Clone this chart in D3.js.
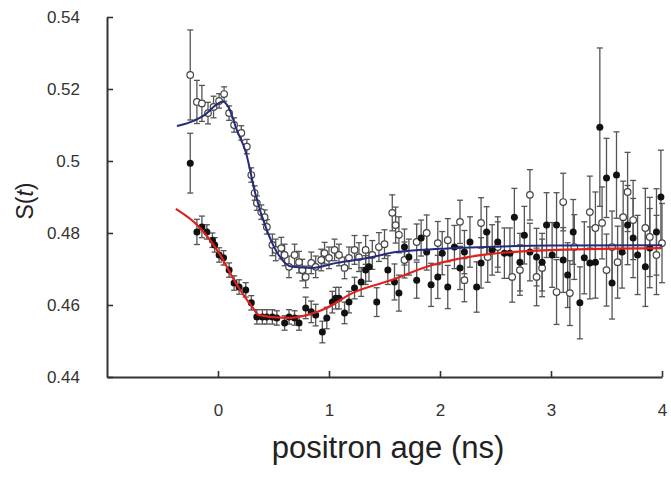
<!DOCTYPE html>
<html>
<head>
<meta charset="utf-8">
<script src="https://cdn.jsdelivr.net/npm/d3@7"></script>
<style>
  body { margin: 0; background: #fff; }
  svg { display: block; }
  .axis text { font-family: "Liberation Sans", Arial, sans-serif; font-size: 17px; fill: #333; }
  .axis path, .axis line { stroke: #333; }
</style>
</head>
<body>
<div id="chart"></div>
<script>
// open circles (blue fit)
var openT = [-0.25, -0.19, -0.145, -0.09, -0.04, 0.01, 0.055, 0.1, 0.145, 0.21, 0.26, 0.3, 0.33, 0.35, 0.39, 0.42, 0.44,
  0.49, 0.52, 0.57, 0.6, 0.64, 0.69, 0.73, 0.76, 0.79, 0.84, 0.88, 0.93, 0.96, 1.0, 1.05, 1.09, 1.14, 1.18, 1.23, 1.27,
  1.33, 1.39, 1.45, 1.5, 1.57, 1.6, 1.63, 1.68, 1.79, 1.88, 1.98, 2.07, 2.18, 2.22, 2.37, 2.43, 2.52, 2.65, 2.72, 2.81,
  2.87, 2.92, 3.05, 3.11, 3.17, 3.21, 3.35, 3.4, 3.46, 3.5, 3.55, 3.6, 3.65, 3.69, 3.74, 3.85, 3.89, 3.95, 4.0];
var openS = [0.5239, 0.5164, 0.516, 0.5133, 0.515, 0.5167, 0.5186, 0.5133, 0.51, 0.5078, 0.504, 0.4961, 0.4911, 0.4883, 0.4858, 0.4844, 0.4817,
  0.4767, 0.4753, 0.4758, 0.4739, 0.4706, 0.4739, 0.4719, 0.4697, 0.4678, 0.4717, 0.4706, 0.4725, 0.4744, 0.4731, 0.4753, 0.4739, 0.4703, 0.4731, 0.4753, 0.4733,
  0.4753, 0.4739, 0.4761, 0.4769, 0.4856, 0.4822, 0.4795, 0.4725, 0.4775, 0.48, 0.4772, 0.478, 0.4831, 0.4669, 0.4828, 0.4733, 0.4761, 0.4678, 0.4697, 0.4906,
  0.4678, 0.4703, 0.4636, 0.4886, 0.4633, 0.4761, 0.4858, 0.4814, 0.4828, 0.4697, 0.4761, 0.4719, 0.4844, 0.4914, 0.4836, 0.4814, 0.4789, 0.4739, 0.4772];
var openErr = [0.0125, 0.006, 0.005, 0.003, 0.003, 0.002, 0.002, 0.002, 0.002, 0.002, 0.002, 0.002, 0.002, 0.002, 0.002, 0.002, 0.002,
  0.003, 0.003, 0.003, 0.003, 0.003, 0.003, 0.003, 0.003, 0.003, 0.003, 0.003, 0.003, 0.003, 0.003, 0.003, 0.003, 0.003, 0.003, 0.004, 0.004,
  0.004, 0.004, 0.004, 0.004, 0.005, 0.005, 0.005, 0.005, 0.005, 0.005, 0.006, 0.006, 0.006, 0.006, 0.007, 0.007, 0.007, 0.007, 0.007, 0.007,
  0.008, 0.008, 0.009, 0.008, 0.009, 0.009, 0.01, 0.01, 0.01, 0.01, 0.01, 0.01, 0.01, 0.011, 0.011, 0.011, 0.011, 0.011, 0.011];

// filled circles (red fit)
var fillT = [-0.25, -0.19, -0.145, -0.1, -0.05, -0.03, 0.01, 0.05, 0.1, 0.145, 0.19, 0.25, 0.3, 0.35, 0.4, 0.44, 0.49, 0.53,
  0.6, 0.64, 0.69, 0.73, 0.79, 0.84, 0.88, 0.94, 0.98, 1.03, 1.06, 1.09, 1.14, 1.18, 1.23, 1.29, 1.33, 1.36, 1.43, 1.53,
  1.59, 1.63, 1.68, 1.72, 1.79, 1.83, 1.88, 1.92, 1.98, 2.02, 2.07, 2.13, 2.18, 2.22, 2.27, 2.33, 2.37, 2.42, 2.47, 2.52,
  2.58, 2.63, 2.67, 2.72, 2.76, 2.81, 2.87, 2.92, 2.96, 3.01, 3.05, 3.11, 3.15, 3.2, 3.26, 3.3, 3.35, 3.4, 3.44, 3.5,
  3.55, 3.59, 3.64, 3.69, 3.74, 3.78, 3.85, 3.89, 3.95, 3.99];
var fillS = [0.4994, 0.4803, 0.4817, 0.4803, 0.478, 0.4767, 0.4739, 0.4731, 0.4697, 0.4661, 0.465, 0.4642, 0.4606, 0.4567, 0.4567, 0.4567, 0.4567, 0.4564,
  0.455, 0.4567, 0.4564, 0.455, 0.4592, 0.4581, 0.4572, 0.4525, 0.4564, 0.4608, 0.4619, 0.4619, 0.4578, 0.4608, 0.4647, 0.4664, 0.4697, 0.4706, 0.4608, 0.4697,
  0.4664, 0.4633, 0.4761, 0.4733, 0.4669, 0.4786, 0.4747, 0.4656, 0.4678, 0.4744, 0.465, 0.4761, 0.4703, 0.4747, 0.4775, 0.465, 0.4717, 0.4803, 0.4753, 0.4775,
  0.4744, 0.4744, 0.4844, 0.4719, 0.4794, 0.4747, 0.4733, 0.4719, 0.4822, 0.4739, 0.4822, 0.4725, 0.4683, 0.4803, 0.4606, 0.4731, 0.4717, 0.4719, 0.5094, 0.4953,
  0.4661, 0.4961, 0.4747, 0.4822, 0.4786, 0.4739, 0.4706, 0.4758, 0.4803, 0.49];
var fillErr = [0.0083, 0.0035, 0.003, 0.002, 0.002, 0.002, 0.002, 0.002, 0.002, 0.002, 0.002, 0.002, 0.002, 0.002, 0.002, 0.002, 0.002, 0.002,
  0.002, 0.002, 0.002, 0.002, 0.003, 0.003, 0.003, 0.003, 0.003, 0.003, 0.003, 0.003, 0.003, 0.003, 0.003, 0.004, 0.004, 0.004, 0.004, 0.004,
  0.005, 0.005, 0.005, 0.005, 0.005, 0.005, 0.005, 0.006, 0.006, 0.006, 0.006, 0.006, 0.006, 0.006, 0.007, 0.007, 0.007, 0.007, 0.007, 0.007,
  0.007, 0.007, 0.008, 0.008, 0.008, 0.008, 0.008, 0.008, 0.009, 0.009, 0.009, 0.009, 0.009, 0.009, 0.01, 0.01, 0.01, 0.01, 0.022, 0.011,
  0.01, 0.012, 0.01, 0.011, 0.011, 0.011, 0.011, 0.011, 0.012, 0.013];

// fitted curves
var blueFitT = [-0.37, -0.25, -0.12, -0.02, 0.04, 0.09, 0.17, 0.25, 0.34, 0.44, 0.53, 0.67, 0.85, 1.07, 1.36, 1.6, 2.0, 2.5, 3.0, 4.0];
var blueFitS = [0.5097, 0.5108, 0.5128, 0.5155, 0.5165, 0.5152, 0.5086, 0.5025, 0.4905, 0.4808, 0.4747, 0.4706, 0.4703, 0.4717, 0.4731, 0.4747, 0.4756, 0.4762, 0.4765, 0.4766];
var redFitT = [-0.38, -0.17, 0.01, 0.16, 0.31, 0.37, 0.61, 0.8, 0.98, 1.21, 1.55, 1.93, 2.38, 3.05, 4.0];
var redFitS = [0.4867, 0.4817, 0.4744, 0.4661, 0.4594, 0.4572, 0.4564, 0.4572, 0.4592, 0.4633, 0.4668, 0.4711, 0.4739, 0.4753, 0.4758];

var xTicks = [0, 1, 2, 3, 4];
var yTicks = [0.44, 0.46, 0.48, 0.5, 0.52, 0.54];

var width = 671, height = 498;
var svg = d3.select("#chart").append("svg")
    .attr("width", width)
    .attr("height", height);

var x = d3.scaleLinear().domain([-1, 4]).range([107, 662]),
    y = d3.scaleLinear().domain([0.44, 0.54]).range([377, 17]);

function zip(ts, ss, es) {
  return ts.map(function(t, i) { return {t: t, s: ss[i], e: es ? es[i] : 0}; });
}
var openPts = zip(openT, openS, openErr),
    fillPts = zip(fillT, fillS, fillErr);

// axes
svg.append("g")
    .attr("class", "axis")
    .attr("transform", "translate(0," + y(0.44) + ")")
    .call(d3.axisBottom(x).tickValues(xTicks).tickFormat(d3.format("d"))
      .tickSizeInner(-6).tickSizeOuter(0).tickPadding(27));
svg.append("g")
    .attr("class", "axis")
    .attr("transform", "translate(" + x(-1) + ",0)")
    .call(d3.axisLeft(y).tickValues(yTicks).tickFormat(function(d) { return String(+d.toFixed(2)); })
      .tickSizeInner(-6).tickSizeOuter(0).tickPadding(27));
svg.selectAll(".axis path").attr("stroke-width", 2);
svg.selectAll(".axis line").attr("stroke-width", 1.6);

// error bars
function errorBars(pts, cls) {
  var g = svg.append("g").attr("class", cls)
      .attr("stroke", "#555").attr("stroke-width", 1.3);
  var bar = g.selectAll("g").data(pts).enter().append("g");
  bar.append("line")
    .attr("x1", function(d) { return x(d.t); }).attr("x2", function(d) { return x(d.t); })
    .attr("y1", function(d) { return y(d.s + d.e); }).attr("y2", function(d) { return y(d.s - d.e); });
  bar.append("line")
    .attr("x1", function(d) { return x(d.t) - 3; }).attr("x2", function(d) { return x(d.t) + 3; })
    .attr("y1", function(d) { return y(d.s + d.e); }).attr("y2", function(d) { return y(d.s + d.e); });
  bar.append("line")
    .attr("x1", function(d) { return x(d.t) - 3; }).attr("x2", function(d) { return x(d.t) + 3; })
    .attr("y1", function(d) { return y(d.s - d.e); }).attr("y2", function(d) { return y(d.s - d.e); });
}
errorBars(openPts, "err-open");
errorBars(fillPts, "err-fill");

// markers
svg.append("g").selectAll("circle").data(openPts).enter().append("circle")
    .attr("cx", function(d) { return x(d.t); })
    .attr("cy", function(d) { return y(d.s); })
    .attr("r", 3.3)
    .attr("fill", "#fff").attr("stroke", "#444").attr("stroke-width", 1.2);
svg.append("g").selectAll("circle").data(fillPts).enter().append("circle")
    .attr("cx", function(d) { return x(d.t); })
    .attr("cy", function(d) { return y(d.s); })
    .attr("r", 3.5)
    .attr("fill", "#111");

// fit curves
var line = d3.line()
    .curve(d3.curveMonotoneX)
    .x(function(d) { return x(d.t); })
    .y(function(d) { return y(d.s); });
svg.append("path").datum(zip(redFitT, redFitS))
    .attr("d", line).attr("fill", "none")
    .attr("stroke", "#e0201c").attr("stroke-width", 2.2);
svg.append("path").datum(zip(blueFitT, blueFitS))
    .attr("d", line).attr("fill", "none")
    .attr("stroke", "#252a7a").attr("stroke-width", 2);

// axis titles
svg.append("text")
    .attr("x", 388).attr("y", 458)
    .attr("text-anchor", "middle")
    .style("font", "31px 'Liberation Sans', Arial, sans-serif")
    .attr("fill", "#222")
    .text("positron age (ns)");

var yt = svg.append("text")
    .attr("transform", "translate(33,201) rotate(-90)")
    .attr("text-anchor", "middle")
    .style("font", "23px 'Liberation Sans', Arial, sans-serif")
    .attr("fill", "#222");
yt.append("tspan").text("S(");
yt.append("tspan").style("font-style", "italic").text("t");
yt.append("tspan").text(")");
</script>
</body>
</html>
